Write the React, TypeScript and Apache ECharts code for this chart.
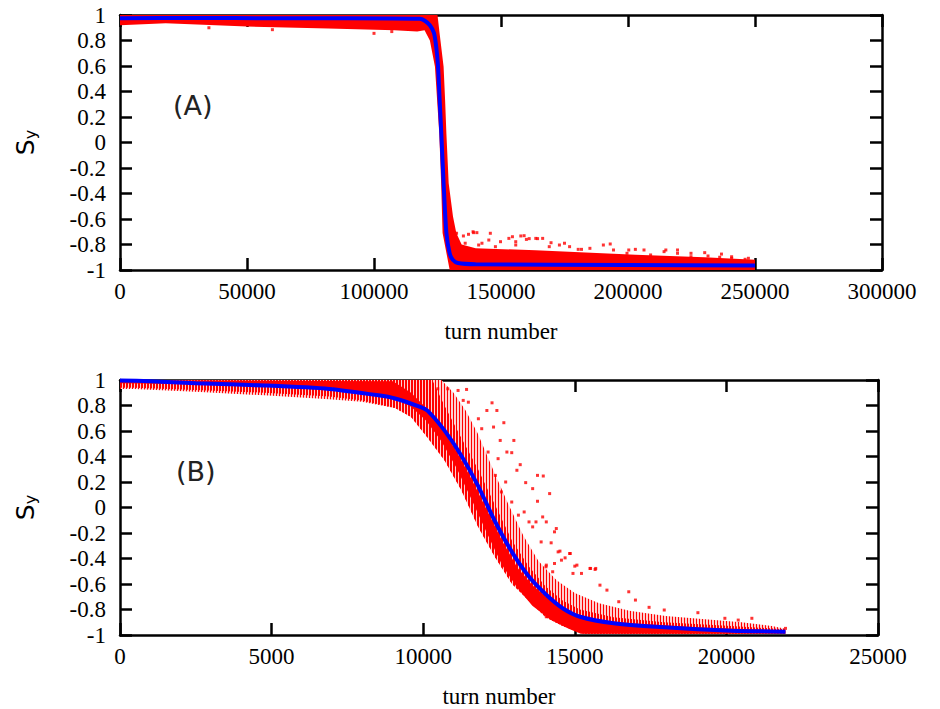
import React, { useEffect, useRef } from "react";
import * as echarts from "echarts";

// ---------- Panel (A) ----------
const aXTicks = { min: 0, max: 300000, interval: 50000 };
const aBlue: number[][] = [
  [0, 0.975], [30000, 0.977], [60000, 0.975], [90000, 0.975], [118000, 0.97],
  [120000, 0.955], [122000, 0.92], [123600, 0.86], [124500, 0.75], [125200, 0.6],
  [125800, 0.35], [126500, 0.07], [127400, -0.32], [128500, -0.71], [129800, -0.87],
  [131000, -0.92], [133000, -0.945], [140000, -0.955], [200000, -0.96], [250000, -0.965],
];
// outline of the dense red cloud (outer edge, then inner edge back)
const aBand: number[][] = [
  [0, 1.0], [125000, 1.0], [125800, 0.86], [127400, 0.595], [128000, 0.33],
  [128500, 0.07], [129400, -0.32], [131100, -0.58], [132400, -0.71], [134500, -0.8],
  [140000, -0.83], [163600, -0.845], [203000, -0.88], [230000, -0.9], [250000, -0.92],
  [250000, -1.0], [129800, -1.0], [127000, -0.71], [126400, -0.3], [125700, 0.07],
  [124000, 0.595], [122000, 0.8], [119900, 0.88], [117000, 0.87], [108000, 0.88],
  [82000, 0.895], [50000, 0.91], [18000, 0.935], [0, 0.92],
];
const aDots: number[][] = [
  [132500, -0.712], [135200, -0.733], [137200, -0.72], [140500, -0.707], [145800, -0.712],
  [154500, -0.739], [159100, -0.731], [163700, -0.752], [166400, -0.752], [169700, -0.786],
  [175000, -0.79], [181700, -0.838], [193000, -0.796], [200300, -0.843], [206300, -0.843],
  [214200, -0.856], [219500, -0.843], [224800, -0.869], [230200, -0.864], [236800, -0.875],
  [240800, -0.896], [247400, -0.908], [155800, -0.778], [149800, -0.778], [142500, -0.79],
  [160000, -0.76], [139000, -0.7], [100000, 0.856], [107000, 0.87], [60000, 0.885], [35000, 0.9],
  [131900, -0.712], [139200, -0.707], [145200, -0.765], [153100, -0.752], [157800, -0.733],
  [161100, -0.754], [164400, -0.754], [169000, -0.817], [173000, -0.804], [177000, -0.817],
  [180400, -0.838], [185000, -0.83], [190300, -0.804], [194300, -0.843], [199600, -0.869],
  [202900, -0.838], [208900, -0.882], [214900, -0.843], [219500, -0.869], [224800, -0.896],
  [231500, -0.89], [236100, -0.9], [240800, -0.908], [246100, -0.916], [147800, -0.817],
  [141200, -0.804], [135900, -0.79], [155800, -0.804],
];

// ---------- Panel (B) ----------
const bXTicks = { min: 0, max: 25000, interval: 5000 };
const bBlue: number[][] = [
  [0, 0.997], [1000, 0.99], [2500, 0.975], [4760, 0.957], [6900, 0.93], [8520, 0.88],
  [9070, 0.855], [9920, 0.787], [10140, 0.76], [10700, 0.605], [11250, 0.41], [11810, 0.17],
  [12370, -0.11], [12930, -0.35], [13480, -0.54], [14040, -0.68], [14600, -0.79],
  [15170, -0.857], [16280, -0.908], [17950, -0.94], [20170, -0.966], [21950, -0.974],
];
// sparse striped envelope (upper edge, then lower edge back)
const bEnvelope: number[][] = [
  [0, 1.0], [10600, 1.0], [11000, 0.9], [11400, 0.76], [11800, 0.58], [12300, 0.3],
  [12800, 0.03], [13300, -0.22], [13800, -0.42], [14400, -0.57], [15000, -0.67],
  [15800, -0.75], [16800, -0.81], [18000, -0.85], [19500, -0.88], [20500, -0.9],
  [21500, -0.93], [21950, -0.95],
  [21950, -0.99], [15300, -0.99], [14600, -0.93], [14040, -0.86], [13480, -0.73],
  [12930, -0.6], [12370, -0.39], [11810, -0.15], [11250, 0.14], [10700, 0.37],
  [10140, 0.55], [9600, 0.71], [9070, 0.78], [7970, 0.83], [6900, 0.85], [4760, 0.88],
  [2650, 0.905], [450, 0.93], [0, 0.93],
];
// dense striped part, around and below the mean curve
const bDense: number[][] = [
  [0, 1.0], [10300, 1.0], [10700, 0.8], [11250, 0.55], [11810, 0.3], [12370, 0.02],
  [12930, -0.26], [13480, -0.46], [14040, -0.62], [14600, -0.73], [15170, -0.8],
  [16280, -0.86], [17950, -0.9], [20170, -0.93], [21950, -0.955],
  [21950, -0.99], [15300, -0.99], [14600, -0.93], [14040, -0.86], [13480, -0.73],
  [12930, -0.6], [12370, -0.39], [11810, -0.15], [11250, 0.14], [10700, 0.37],
  [10140, 0.55], [9600, 0.71], [9070, 0.78], [7970, 0.84], [6900, 0.87], [4760, 0.9],
  [2650, 0.92], [450, 0.94], [0, 0.94],
];
// solid core of the cloud
const bCore: number[][] = [
  [0, 1.0], [9000, 0.99], [9600, 0.9], [10100, 0.78], [10600, 0.63], [11100, 0.44],
  [11600, 0.22], [12100, -0.02], [12600, -0.26], [13100, -0.47], [13600, -0.61],
  [14200, -0.73], [14800, -0.82], [15600, -0.88], [17000, -0.91], [19000, -0.94], [21950, -0.965],
  [21950, -0.99], [15200, -0.99], [14800, -0.95], [14200, -0.88], [13600, -0.77],
  [13100, -0.63], [12600, -0.45], [12100, -0.2], [11600, 0.06], [11100, 0.31],
  [10600, 0.52], [10100, 0.68], [9600, 0.79], [9000, 0.86], [7000, 0.94], [4000, 0.96], [0, 0.975],
];
const bDots: number[][] = [
  [10480, 0.931], [10810, 0.931], [11150, 0.918], [11430, 0.926], [11320, 0.84], [11490, 0.826],
  [12270, 0.821], [12430, 0.761], [12100, 0.761], [11820, 0.696], [11930, 0.618], [12320, 0.631],
  [12660, 0.665], [12990, 0.526], [12540, 0.526], [12760, 0.435], [12920, 0.43], [13200, 0.336],
  [13090, 0.292], [13770, 0.252], [13960, 0.247], [13380, 0.195], [13610, 0.148], [14170, 0.109],
  [13770, 0.049], [13940, -0.074], [14330, -0.191], [13610, -0.152], [13720, -0.113], [13330, -0.035],
  [14510, -0.342], [14850, -0.361], [14680, -0.395], [15070, -0.452], [15520, -0.478], [15690, -0.478],
  [14330, -0.439], [14050, -0.465], [14270, -0.504], [14940, -0.517], [12380, 0.252], [12720, 0.2],
  [12920, 0.043], [13140, -0.06], [12580, 0.122], [13490, -0.113], [12470, 0.383], [12140, 0.435],
  [14060, -0.113], [14390, -0.165], [13890, -0.27], [14220, -0.277], [14450, -0.348], [14830, -0.361],
  [14560, -0.413], [14060, -0.452], [15000, -0.46], [15220, -0.517], [15500, -0.478], [15670, -0.486],
  [15830, -0.609], [16060, -0.648], [16780, -0.661], [17000, -0.726], [16450, -0.739], [17450, -0.783],
  [17950, -0.804], [19060, -0.825], [19950, -0.869], [20390, -0.883], [20840, -0.869], [21950, -0.948],
  [14060, -0.857],
];

const yTicks = { min: -1, max: 1, interval: 0.2 };

const SERIF = "Liberation Serif";
const SANS = "DejaVu Sans";
const RED = "#ff0000";
const BLUE = "#0000ff";

function makeStripePattern(redCols: number) {
  const c = document.createElement("canvas");
  c.width = 3;
  c.height = 3;
  const ctx = c.getContext("2d");
  if (ctx) {
    ctx.fillStyle = "#ffd0d0";
    ctx.fillRect(0, 0, 3, 3);
    ctx.fillStyle = RED;
    ctx.fillRect(0, 0, redCols, 3);
  }
  return { image: c, repeat: "repeat", imageWidth: 3, imageHeight: 3 } as any;
}

export default function App() {
  const ref = useRef<HTMLDivElement>(null);
  useEffect(() => {
    if (!ref.current) return;
    const chart = echarts.init(ref.current, undefined, { renderer: "svg" });
    const sparse = makeStripePattern(1);
    const dense = makeStripePattern(2);

    const axisLine = { show: true, onZero: false, lineStyle: { color: "#000", width: 2.5 } };
    const axisTick = { show: true, inside: true, length: 12, lineStyle: { color: "#000", width: 2.5 } };

    const xAxesFor = (gridIndex: number, t: { min: number; max: number; interval: number }) => [
      {
        type: "value", gridIndex, position: "bottom", min: t.min, max: t.max, interval: t.interval,
        axisLine, axisTick, splitLine: { show: false },
        axisLabel: { color: "#000", fontFamily: SERIF, fontSize: 23, margin: 10, formatter: (v: number) => String(v) },
        name: "turn number", nameLocation: "middle", nameGap: 50,
        nameTextStyle: { color: "#000", fontFamily: SERIF, fontSize: 23 },
      },
      {
        type: "value", gridIndex, position: "top", min: t.min, max: t.max, interval: t.interval,
        axisLine, axisTick, splitLine: { show: false }, axisLabel: { show: false },
      },
    ];
    const yAxesFor = (gridIndex: number) => [
      {
        type: "value", gridIndex, position: "left", min: yTicks.min, max: yTicks.max, interval: yTicks.interval,
        axisLine, axisTick, splitLine: { show: false },
        axisLabel: { color: "#000", fontFamily: SERIF, fontSize: 23, margin: 14, formatter: (v: number) => String(Math.round(v * 10) / 10) },
        name: "{s|S}{sub|y}", nameLocation: "middle", nameGap: 82, nameRotate: 90,
        nameTextStyle: {
          rich: {
            s: { fontFamily: SANS, fontSize: 25, color: "#000", verticalAlign: "bottom" },
            sub: { fontFamily: SANS, fontSize: 16, color: "#000", verticalAlign: "bottom" },
          },
        },
      },
      {
        type: "value", gridIndex, position: "right", min: yTicks.min, max: yTicks.max, interval: yTicks.interval,
        axisLine, axisTick, splitLine: { show: false }, axisLabel: { show: false },
      },
    ];

    const poly = (xi: number, yi: number, pts: number[][], fill: any, z: number) => ({
      type: "custom", coordinateSystem: "cartesian2d", xAxisIndex: xi, yAxisIndex: yi,
      clip: true, silent: true, z, data: [[0, 0]],
      renderItem: (_p: any, api: any) => ({
        type: "polygon",
        shape: { points: pts.map((p) => api.coord(p)) },
        style: { fill },
      }),
    });
    const dots = (xi: number, yi: number, data: number[][]) => ({
      type: "scatter", xAxisIndex: xi, yAxisIndex: yi, data, symbol: "rect", symbolSize: 3,
      itemStyle: { color: RED }, z: 3, silent: true,
    });
    const line = (xi: number, yi: number, data: number[][]) => ({
      type: "line", xAxisIndex: xi, yAxisIndex: yi, data, showSymbol: false, smooth: 0.25,
      lineStyle: { color: BLUE, width: 4 }, z: 5, silent: true,
    });

    chart.setOption({
      animation: false,
      backgroundColor: "#fff",
      grid: [
        { left: 120, top: 15, width: 762, height: 255 },
        { left: 120, top: 380, width: 758, height: 255 },
      ],
      xAxis: [...xAxesFor(0, aXTicks), ...xAxesFor(1, bXTicks)],
      yAxis: [...yAxesFor(0), ...yAxesFor(1)],
      graphic: [
        { type: "text", x: 173, y: 105, style: { text: "(A)", fontFamily: SANS, fontSize: 27, fill: "#222", verticalAlign: "middle", align: "left" } },
        { type: "text", x: 176, y: 471, style: { text: "(B)", fontFamily: SANS, fontSize: 27, fill: "#222", verticalAlign: "middle", align: "left" } },
      ],
      series: [
        poly(0, 0, aBand, RED, 2),
        dots(0, 0, aDots),
        line(0, 0, aBlue),
        poly(2, 2, bEnvelope, sparse, 1),
        poly(2, 2, bDense, dense, 2),
        poly(2, 2, bCore, RED, 3),
        dots(2, 2, bDots),
        line(2, 2, bBlue),
      ],
    });
    return () => chart.dispose();
  }, []);
  return (
    <div
      ref={ref}
      style={{ position: "fixed", left: 0, top: 0, width: 940, height: 709, background: "#fff" }}
    />
  );
}
